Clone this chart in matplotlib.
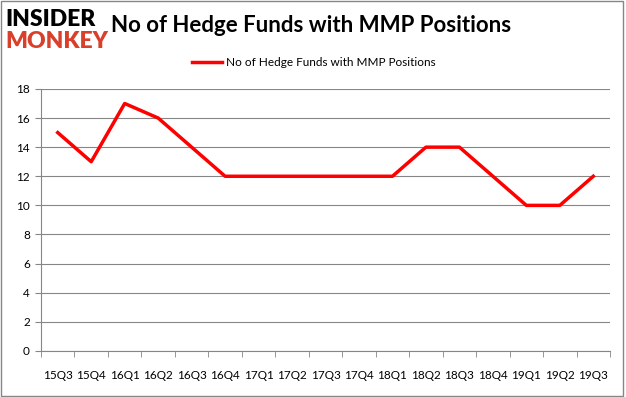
import matplotlib
matplotlib.use('Agg')
import matplotlib.pyplot as plt
from matplotlib.patches import Rectangle

quarters = ['15Q3', '15Q4', '16Q1', '16Q2', '16Q3', '16Q4', '17Q1', '17Q2', '17Q3',
            '17Q4', '18Q1', '18Q2', '18Q3', '18Q4', '19Q1', '19Q2', '19Q3']
hedge_funds = [15, 13, 17, 16, 14, 12, 12, 12, 12, 12, 12, 14, 14, 12, 10, 10, 12]
y_ticks = list(range(0, 19, 2))

plt.rcParams['font.family'] = ['Lato', 'DejaVu Sans']

fig = plt.figure(figsize=(6.26, 3.97), dpi=100)
ax = fig.add_axes([0.0655, 0.116, 0.909, 0.66])

x = list(range(len(quarters)))
ax.plot(x, hedge_funds, color='#ff0000', linewidth=2.5,
        label='No of Hedge Funds with MMP Positions')

ax.set_xlim(-0.5, len(quarters) - 0.5)
ax.set_ylim(0, 18)
ax.set_yticks(y_ticks)
ax.set_xticks(x)
ax.set_xticklabels(quarters)
ax.set_xticks([i - 0.5 for i in range(len(quarters) + 1)], minor=True)
ax.tick_params(axis='x', which='major', length=0, pad=14, labelsize=8.5)
ax.tick_params(axis='x', which='minor', length=4, color='#868686')
ax.tick_params(axis='y', length=4, color='#868686', labelsize=8.5, pad=4)
ax.grid(axis='y', color='#868686', linewidth=0.8)
ax.set_axisbelow(True)
for side in ['top', 'right']:
    ax.spines[side].set_visible(False)
ax.spines['bottom'].set_color('#868686')
ax.spines['left'].set_color('#868686')

ax.legend(loc='center', bbox_to_anchor=(0.48, 1.1), frameon=False,
          fontsize=8.5, handlelength=2.5, handletextpad=0.4)

fig.text(0.497, 0.935, 'No of Hedge Funds with MMP Positions', ha='center',
         va='center', fontsize=16, fontweight='bold')
fig.text(0.008, 0.952, 'INSIDER', fontsize=16.5, fontweight='heavy', color='black',
         va='center')
fig.text(0.008, 0.895, 'MONKEY', fontsize=16.5, fontweight='heavy', color='#d9402b',
         va='center')

fig.patches.append(Rectangle((0.002, 0.003), 0.994, 0.994, transform=fig.transFigure,
                             fill=False, edgecolor='#868686', linewidth=1))

fig.savefig('out.png', dpi=100)
